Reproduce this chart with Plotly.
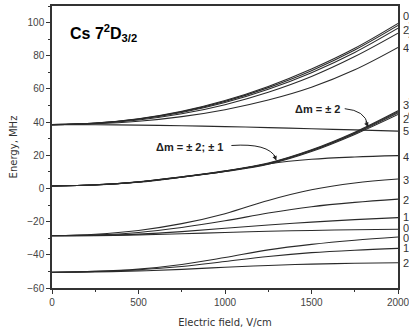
import plotly.graph_objects as go

field = [0, 250, 500, 750, 1000, 1250, 1500, 1750, 2000]

# F=5 group (starts ~38.5 MHz)
f5_m0 = [38.5, 39.4, 42.0, 46.5, 53.0, 61.5, 72.0, 84.5, 99.5]
f5_m1 = [38.5, 39.4, 41.9, 46.2, 52.5, 60.8, 71.0, 83.5, 98.3]
f5_m2 = [38.5, 39.3, 41.7, 45.8, 51.8, 59.8, 69.8, 82.0, 96.6]
f5_m3 = [38.5, 39.2, 41.3, 45.0, 50.5, 58.0, 67.5, 79.5, 93.6]
f5_m4 = [38.5, 39.0, 40.5, 43.3, 47.5, 53.3, 61.0, 71.5, 85.0]
f5_m5 = [38.5, 38.4, 38.2, 37.8, 37.3, 36.7, 36.0, 35.3, 34.6]
# F=4 group (starts ~1.5 MHz)
f4_m0 = [1.5, 2.1, 3.9, 6.8, 10.2, 14.6, 22.3, 32.6, 44.6]
f4_m1 = [1.5, 2.1, 3.9, 6.9, 10.4, 14.9, 22.7, 33.1, 45.5]
f4_m2 = [1.5, 2.2, 4.0, 7.0, 10.5, 15.1, 23.0, 33.5, 46.1]
f4_m3 = [1.5, 2.2, 4.0, 7.1, 10.6, 15.3, 23.3, 33.9, 46.8]
f4_m4 = [1.5, 2.1, 3.8, 6.8, 10.3, 14.8, 17.6, 19.0, 19.8]
# F=3 group (starts ~-28.5 MHz)
f3_m0 = [-28.5, -28.4, -28.0, -27.3, -26.5, -25.8, -25.3, -24.9, -24.6]
f3_m1 = [-28.5, -28.3, -27.5, -26.0, -24.0, -22.0, -20.3, -18.8, -17.6]
f3_m2 = [-28.5, -28.0, -26.5, -23.5, -19.5, -14.8, -11.0, -8.4, -6.4]
f3_m3 = [-28.5, -27.6, -25.3, -21.2, -15.2, -7.2, -0.8, 3.3, 5.7]
# F=2 group (starts ~-50.5 MHz)
f2_m0 = [-50.5, -50.0, -48.6, -45.8, -41.6, -37.0, -33.7, -31.2, -29.3]
f2_m1 = [-50.5, -50.0, -49.0, -47.0, -44.0, -41.0, -38.7, -37.2, -36.1]
f2_m2 = [-50.5, -50.3, -49.7, -48.8, -47.5, -46.4, -45.6, -45.1, -44.8]

series = [f5_m0, f5_m1, f5_m2, f5_m3, f5_m4, f5_m5,
          f4_m0, f4_m1, f4_m2, f4_m3, f4_m4,
          f3_m0, f3_m1, f3_m2, f3_m3,
          f2_m0, f2_m1, f2_m2]

# right-edge m labels: (text, energy, small)
end_labels = [
    ("0", 104.0, False), ("1", 98.6, True), ("2", 95.6, False), ("3", 92.5, True), ("4", 84.5, False),
    ("3", 50.1, False), ("1", 53.0, True), ("2", 41.6, False), ("0", 44.7, True), ("5", 34.4, False),
    ("4", 19.2, False),
    ("3", 5.3, False), ("2", -6.8, False), ("1", -17.2, False), ("0", -23.6, False),
    ("0", -29.8, False), ("1", -36.0, False), ("2", -45.0, False),
]

fig = go.Figure()
for s in series:
    fig.add_trace(go.Scatter(x=field, y=s, mode="lines", line=dict(color="#2a2a2a", width=1.1, shape="spline", smoothing=1.0),
                             showlegend=False, hoverinfo="skip"))

ann = []
for t, yv, small in end_labels:
    ann.append(dict(x=2000, y=yv, xref="x", yref="y", text=t, showarrow=False, xanchor="left",
                    xshift=(8 if small else 3), font=dict(family="Liberation Sans, Arial", size=(8 if small else 11), color="#333")))

ann.append(dict(x=295, y=93.5, xref="x", yref="y", text="<b>Cs 7<sup>2</sup>D<sub>3/2</sub></b>", showarrow=False,
                font=dict(family="Liberation Sans, Arial", size=16, color="black")))
ann.append(dict(x=1536, y=48.1, xref="x", yref="y", text="<b>Δm = ± 2</b>", showarrow=False,
                font=dict(family="Liberation Sans, Arial", size=11, color="#222")))
ann.append(dict(x=797, y=25.3, xref="x", yref="y", text="<b>Δm = ± 2; ± 1</b>", showarrow=False,
                font=dict(family="Liberation Sans, Arial", size=11, color="#222")))
# arrowheads
ann.append(dict(x=1297, y=16.8, xref="x", yref="y", ax=-3, ay=-7, text="", showarrow=True, arrowhead=2, arrowsize=0.9, arrowwidth=1, arrowcolor="#222"))
ann.append(dict(x=1827, y=37.0, xref="x", yref="y", ax=-3, ay=-7, text="", showarrow=True, arrowhead=2, arrowsize=0.9, arrowwidth=1, arrowcolor="#222"))

shapes = [
    dict(type="path", xref="x", yref="y", path="M 1037,25.9 Q 1250,27.5 1294,18.5", line=dict(color="#222", width=1)),
    dict(type="path", xref="x", yref="y", path="M 1692,48.1 Q 1810,47 1825,38.5", line=dict(color="#222", width=1)),
]

fig.update_layout(
    width=409, height=334, margin=dict(l=52, r=11, t=6, b=46, autoexpand=False),
    paper_bgcolor="white", plot_bgcolor="white",
    annotations=ann, shapes=shapes,
    xaxis=dict(range=[0, 2000], tickvals=[0, 500, 1000, 1500, 2000], ticks="outside", ticklen=4, tickcolor="#333",
               showline=True, linecolor="#333", linewidth=1.5, mirror=True, showgrid=False, zeroline=False,
               ticklabeloverflow="allow", automargin=False,
               minor=dict(dtick=250, ticks="outside", ticklen=2, tickcolor="#333", showgrid=False),
               tickfont=dict(family="Liberation Sans, Arial", size=10, color="#444"),
               title=dict(text="Electric field, V/cm", font=dict(family="DejaVu Sans", size=10, color="#333"), standoff=12)),
    yaxis=dict(range=[-60, 110], tickvals=[-60, -40, -20, 0, 20, 40, 60, 80, 100], ticks="outside", ticklen=4, tickcolor="#333",
               showline=True, linecolor="#333", linewidth=1.5, mirror=True, showgrid=False, zeroline=False,
               automargin=False,
               minor=dict(dtick=10, ticks="outside", ticklen=2, tickcolor="#333", showgrid=False),
               tickfont=dict(family="Liberation Sans, Arial", size=10, color="#444"),
               title=dict(text="Energy, MHz", font=dict(family="DejaVu Sans", size=10, color="#333"), standoff=8)),
)

fig.write_html("out.html")
